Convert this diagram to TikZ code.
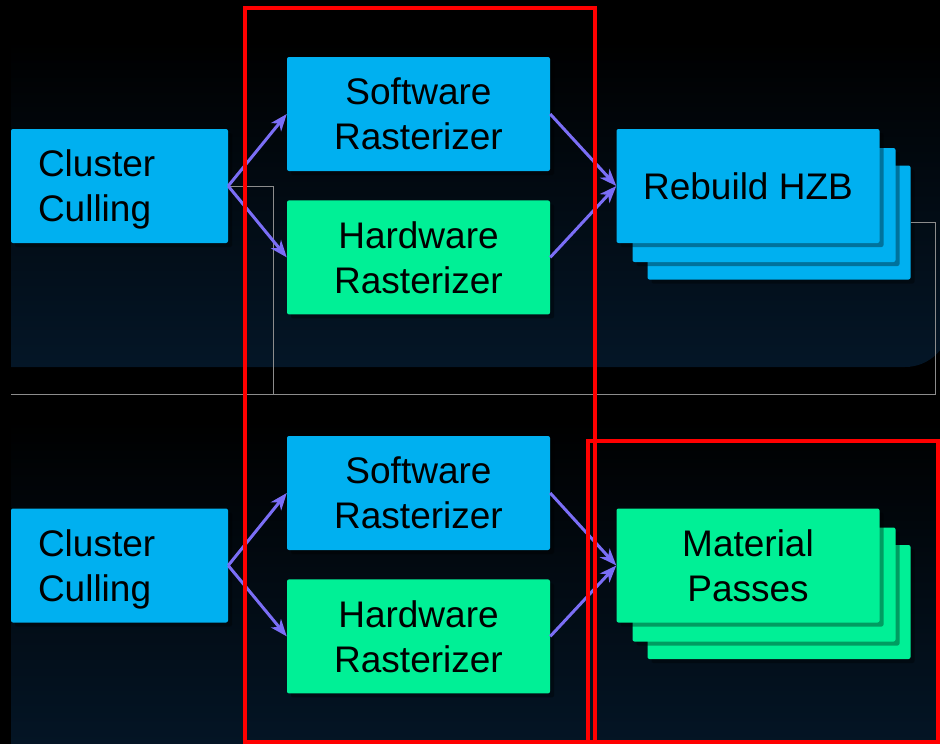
\documentclass[tikz,border=0pt]{standalone}
\usepackage{fontspec}
\setmainfont{Liberation Sans}
\usepackage{tikz}
\usetikzlibrary{positioning,arrows.meta,shadows}

\definecolor{boxblue}{HTML}{00B0F0}
\definecolor{boxgreen}{HTML}{00F096}
\definecolor{flowviolet}{HTML}{7B6EF6}
\definecolor{panelnavy}{HTML}{041627}
\definecolor{markred}{HTML}{FF0000}
\definecolor{guidegray}{HTML}{8C8C8C}

\tikzset{
  box/.style={rectangle, rounded corners=2pt, minimum width=263pt, minimum height=114pt,
    inner sep=0pt, align=center, font=\fontsize{37}{45}\selectfont, text=black,
    drop shadow={shadow xshift=4pt, shadow yshift=-4pt, opacity=0.35, fill=black}},
  bluebox/.style={box, fill=boxblue},
  greenbox/.style={box, fill=boxgreen},
  cullbox/.style={bluebox, minimum width=217pt, text width=163pt, inner xsep=27pt,
    align=left, text depth=45pt},
  flow/.style={flowviolet, line width=3pt, -{Stealth[length=17pt,width=13pt,inset=5pt]}},
  guide/.style={guidegray, line width=1pt},
  marker/.style={markred, line width=4pt}
}

\begin{document}
\begin{tikzpicture}[x=1pt,y=-1pt]
  \useasboundingbox (0,0) rectangle (940,744);
  \fill[black] (0,0) rectangle (940,744);

  % panels
  \fill[top color=black, bottom color=panelnavy]
    (11,40) -- (950,40) -- (950,322) arc[start angle=0, end angle=90, radius=45] -- (11,367) -- cycle;
  \fill[top color=black, bottom color=panelnavy]
    (11,420) -- (950,420) -- (950,715) arc[start angle=0, end angle=90, radius=45] -- (11,760) -- cycle;

  % upper pass
  \node[cullbox] (cc1) at (119.5,186) {Cluster\\Culling};
  \node[bluebox] (sw1) at (418.5,114) {Software\\Rasterizer};
  \node[greenbox, below=29pt of sw1] (hw1) {Hardware\\Rasterizer};
  \node[bluebox] (hzb3) at (779,222.5) {};
  \node[bluebox] (hzb2) at (764,205) {};
  \node[bluebox] (hzb) at (748,186) {Rebuild HZB};

  % lower pass
  \node[cullbox] (cc2) at (119.5,565.5) {Cluster\\Culling};
  \node[bluebox] (sw2) at (418.5,493) {Software\\Rasterizer};
  \node[greenbox, below=29pt of sw2] (hw2) {Hardware\\Rasterizer};
  \node[greenbox] (mat3) at (779,602) {};
  \node[greenbox] (mat2) at (764,584.5) {};
  \node[greenbox] (mat) at (748,565.5) {Material\\Passes};

  % thin guides
  \draw[guide] (cc1.east) -| (273,394) -- (11,394);
  \draw[guide] (hzb3.east) -| (935,394) -- (273,394);

  \draw[flow] (cc1.east) -- (sw1.west);
  \draw[flow] (cc1.east) -- (hw1.west);
  \draw[flow] (sw1.east) -- (hzb.west);
  \draw[flow] (hw1.east) -- (hzb.west);

  \draw[flow] (cc2.east) -- (sw2.west);
  \draw[flow] (cc2.east) -- (hw2.west);
  \draw[flow] (sw2.east) -- (mat.west);
  \draw[flow] (hw2.east) -- (mat.west);

  % highlight frames
  \draw[marker] (245,8) rectangle (595,742);
  \draw[marker] (588,441) rectangle (938,742);
\end{tikzpicture}
\end{document}
